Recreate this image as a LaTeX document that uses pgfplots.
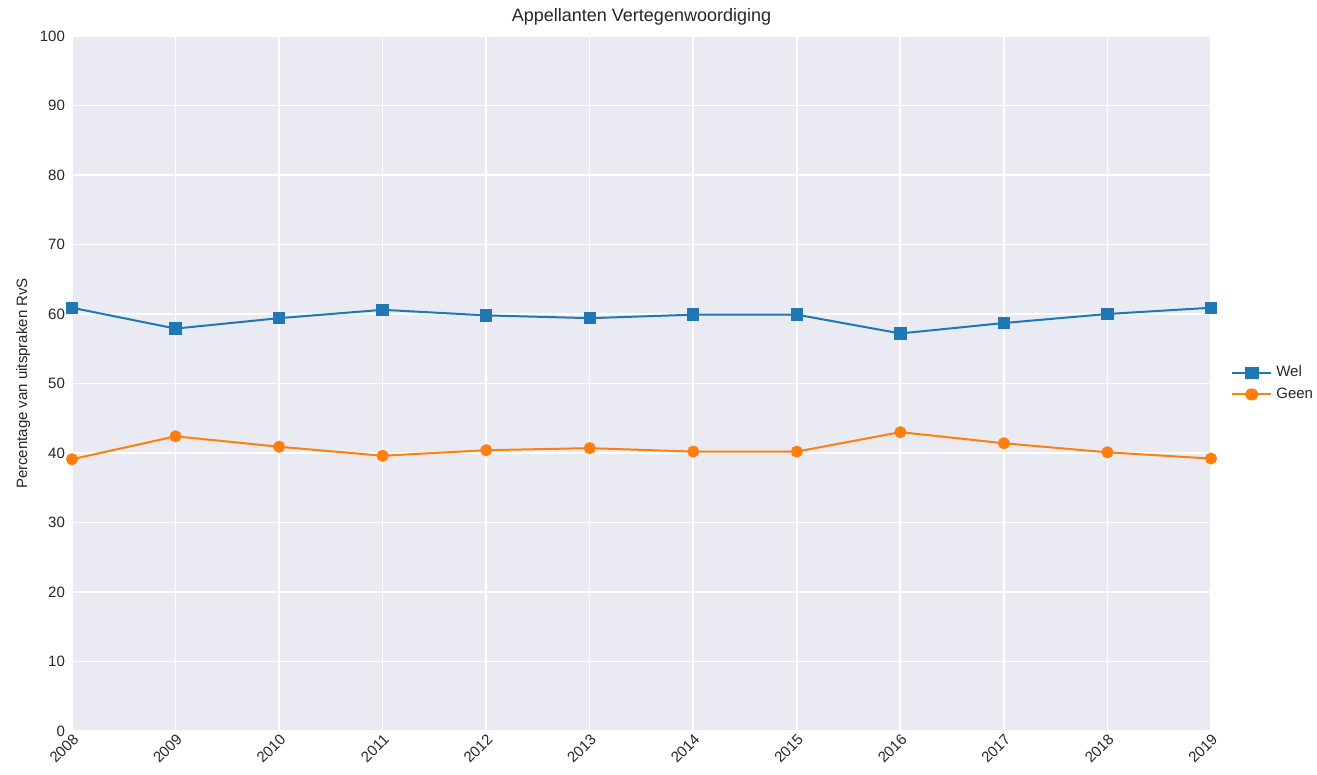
\documentclass[border=0pt]{standalone}
\usepackage{pgfplots}
\pgfplotsset{compat=1.18}
\usepackage{fontspec}
\setmainfont{Liberation Sans}
\definecolor{sbbg}{HTML}{EAEAF2}
\definecolor{tblue}{HTML}{1F77B4}
\definecolor{torange}{HTML}{FF7F0E}
\definecolor{txt}{HTML}{262626}
\begin{document}
\begin{tikzpicture}
\path[use as bounding box] (-36pt,-22pt) rectangle (622.5pt,365.5pt);
\begin{axis}[
  at={(0,0)}, anchor=south west,
  scale only axis, width=569.5pt, height=347.5pt,
  xmin=2008, xmax=2019, ymin=0, ymax=100,
  xtick={2008,...,2019}, ytick={0,10,...,100},
  xticklabel style={rotate=45, anchor=north east, font=\fontsize{7.5}{8}\selectfont, inner sep=0.5pt},
  yticklabel style={font=\fontsize{7.5}{8}\selectfont},
  /pgf/number format/assume math mode=true,
  /pgf/number format/1000 sep={},
  axis background/.style={fill=sbbg},
  axis line style={draw=none},
  major tick length=0pt,
  grid=major, major grid style={white, line width=0.8pt},
  ticklabel style={text=txt},
  title={Appellanten Vertegenwoordiging},
  title style={font=\fontsize{9}{10}\selectfont, text=txt, yshift=-4pt},
  ylabel={Percentage van uitspraken RvS},
  ylabel style={font=\fontsize{7.5}{8}\selectfont, text=txt, yshift=-2pt},
  legend style={at={(1.012,0.5)}, anchor=west, draw=none, fill=white, font=\fontsize{7.5}{8}\selectfont, text=txt, row sep=0pt},
  legend image post style={xscale=1.15},
  legend cell align=left,
  clip=false,
]
\addplot[color=tblue, line width=1pt, mark=square*, mark size=2.6pt] coordinates {
(2008,60.9) (2009,57.9) (2010,59.4) (2011,60.6) (2012,59.8) (2013,59.4) (2014,59.9) (2015,59.9) (2016,57.2) (2017,58.7) (2018,60.0) (2019,60.9)};
\addlegendentry{Wel}
\addplot[color=torange, line width=1pt, mark=*, mark size=2.5pt] coordinates {
(2008,39.1) (2009,42.4) (2010,40.9) (2011,39.6) (2012,40.4) (2013,40.7) (2014,40.2) (2015,40.2) (2016,43.0) (2017,41.4) (2018,40.1) (2019,39.2)};
\addlegendentry{Geen}
\end{axis}
\end{tikzpicture}
\end{document}
